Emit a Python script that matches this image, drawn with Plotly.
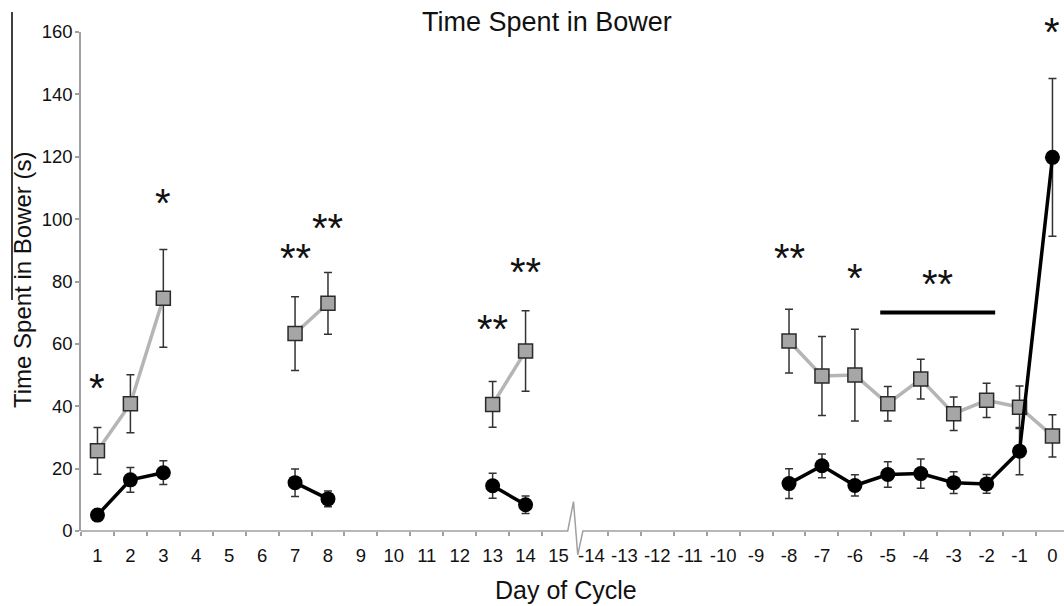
import plotly.graph_objects as go

# ---------------- data ----------------
days = ["1", "2", "3", "4", "5", "6", "7", "8", "9", "10", "11", "12", "13", "14", "15",
        "-14", "-13", "-12", "-11", "-10", "-9", "-8", "-7", "-6", "-5", "-4", "-3", "-2", "-1", "0"]

gray_mean = [25.7, 40.8, 74.6, None, None, None, 63.3, 73.0, None, None, None, None, 40.6, 57.7, None,
             None, None, None, None, None, None, 60.9, 49.7, 50.0, 40.8, 48.7, 37.6, 41.9, 39.7, 30.5]
gray_err = [7.5, 9.3, 15.7, None, None, None, 11.8, 9.9, None, None, None, None, 7.3, 12.9, None,
            None, None, None, None, None, None, 10.2, 12.7, 14.7, 5.5, 6.4, 5.4, 5.5, 6.8, 6.8]

black_mean = [5.1, 16.4, 18.7, None, None, None, 15.5, 10.3, None, None, None, None, 14.5, 8.4, None,
              None, None, None, None, None, None, 15.2, 20.9, 14.6, 18.1, 18.4, 15.5, 15.1, 25.6, 119.8]
black_err = [1.0, 4.0, 3.8, None, None, None, 4.4, 2.5, None, None, None, None, 4.0, 2.8, None,
             None, None, None, None, None, None, 4.8, 3.8, 3.4, 4.1, 4.7, 3.5, 3.0, 7.6, 25.3]

# significance markers: (day, label, height in s)
sig_days = ["1", "3", "7", "8", "13", "14", "-8", "-6", "0"]
sig_text = ["*", "*", "**", "**", "**", "**", "**", "*", "*"]
sig_y = [47.4, 106.8, 89.2, 98.8, 66.4, 84.7, 89.0, 82.8, 161.7]

# bracket spanning days -5 .. -2
bar_from, bar_to, bar_y, bar_text, bar_text_y = "-5", "-2", 70.1, "**", 80.8

y_max = 160
y_ticks = [0, 20, 40, 60, 80, 100, 120, 140, 160]

# ---------------- figure ----------------
idx = list(range(len(days)))
pos = {d: i for i, d in enumerate(days)}

FONT = "Liberation Sans, Arial, Helvetica, sans-serif"
AXIS_GRAY = "#a0a0a0"
STAR_SIZE = 40

fig = go.Figure()

fig.add_trace(go.Scatter(
    x=idx, y=gray_mean, mode="lines+markers", connectgaps=False,
    line=dict(color="#b5b5b5", width=3.5),
    marker=dict(symbol="square", size=14, color="#a6a6a6", line=dict(color="#2a2a2a", width=1.5)),
    error_y=dict(type="data", array=gray_err, visible=True, color="#333333", thickness=1.5, width=4),
    showlegend=False, cliponaxis=False,
))

fig.add_trace(go.Scatter(
    x=idx, y=black_mean, mode="lines+markers", connectgaps=False,
    line=dict(color="#000000", width=3.5),
    marker=dict(symbol="circle", size=15, color="#000000"),
    error_y=dict(type="data", array=black_err, visible=True, color="#333333", thickness=1.5, width=4),
    showlegend=False, cliponaxis=False,
))

annotations = []
# stars use paper y (value / y_max) so that ones above the axis range are still drawn
for d, t, yv in zip(sig_days, sig_text, sig_y):
    annotations.append(dict(x=pos[d], y=yv / y_max, xref="x", yref="paper", text=t, showarrow=False,
                            font=dict(family=FONT, size=STAR_SIZE, color="#111111"),
                            xanchor="center", yanchor="middle", yshift=-5))
bar_mid = (pos[bar_from] + pos[bar_to]) / 2
annotations.append(dict(x=bar_mid, y=bar_text_y / y_max, xref="x", yref="paper", text=bar_text,
                        showarrow=False, font=dict(family=FONT, size=STAR_SIZE, color="#111111"),
                        xanchor="center", yanchor="middle", yshift=-5))

# axis titles
annotations.append(dict(x=-0.060, y=0.503, xref="paper", yref="paper", text="Time Spent in Bower (s)",
                        textangle=-90, showarrow=False, font=dict(family=FONT, size=24, color="#111111"),
                        xanchor="center", yanchor="middle"))
annotations.append(dict(x=0.493, y=-0.118, xref="paper", yref="paper", text="Day of Cycle",
                        showarrow=False, font=dict(family=FONT, size=25, color="#111111"),
                        xanchor="center", yanchor="middle"))

shapes = []
# significance bracket
shapes.append(dict(type="line", xref="x", yref="y", x0=pos[bar_from] - 0.23, x1=pos[bar_to] + 0.26,
                   y0=bar_y, y1=bar_y, line=dict(color="#000000", width=4)))
# x axis line with break symbol between 15 and -14 (y in paper units, so not clipped vertically)
brk = pos["15"] + 0.5
x_end = 29.35
shapes.append(dict(type="path", xref="x", yref="paper",
                   path=(f"M -0.5,0 L {brk - 0.22},0 L {brk - 0.045},0.059 L {brk + 0.085},-0.048 "
                         f"L {brk + 0.24},0 L {x_end},0"),
                   line=dict(color=AXIS_GRAY, width=1.5)))
# thin dark line at left (as in source image)
shapes.append(dict(type="line", xref="paper", yref="paper", x0=-0.0702, x1=-0.0702, y0=1.04, y1=0.463,
                   line=dict(color="#000000", width=1.5)))

minor_ticks = [i + 0.5 for i in range(-1, len(days) - 1) if abs(i + 0.5 - brk) > 0.01]

fig.update_layout(
    width=1064, height=606,
    margin=dict(l=81, r=0, t=32, b=75),
    paper_bgcolor="white", plot_bgcolor="white",
    title=dict(text="Time Spent in Bower", x=0.514, xref="container", xanchor="center",
               y=1 - 22 / 606, yref="container", yanchor="middle",
               font=dict(family=FONT, size=27, color="#111111")),
    annotations=annotations, shapes=shapes,
    xaxis=dict(range=[-0.5, x_end], tickmode="array", tickvals=idx, ticktext=days,
               ticks="", showline=False, showgrid=False, zeroline=False,
               tickfont=dict(family=FONT, size=18.5, color="#111111"), ticklabelstandoff=11,
               minor=dict(tickmode="array", tickvals=minor_ticks, ticks="outside", ticklen=4,
                          tickcolor=AXIS_GRAY, tickwidth=1.5, showgrid=False)),
    yaxis=dict(range=[0, y_max], tickmode="array", tickvals=y_ticks, ticks="outside", ticklen=4,
               tickcolor=AXIS_GRAY, tickwidth=1.5, showline=True, linecolor=AXIS_GRAY, linewidth=1.5,
               showgrid=False, zeroline=False, ticklabelstandoff=-1,
               tickfont=dict(family=FONT, size=18.5, color="#111111")),
)

fig.write_html("out.html", config={"displayModeBar": False},
               post_script="document.body.style.margin='0px';document.body.style.overflow='hidden';")
